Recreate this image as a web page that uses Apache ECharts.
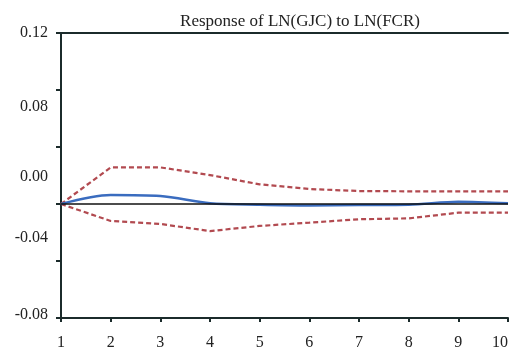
<!DOCTYPE html>
<html>
<head>
<meta charset="utf-8">
<script src="https://cdn.jsdelivr.net/npm/echarts@6/dist/echarts.min.js"></script>
<style>
  html, body { margin: 0; padding: 0; background: #fff; }
  #main { width: 509px; height: 354px; }
</style>
</head>
<body>
<div id="main"></div>
<script>
// periods after the shock
var periods = [1, 2, 3, 4, 5, 6, 7, 8, 9, 10];
// impulse response and +/- 2 s.e. bands
var response = [0, 0.0063, 0.0056, 0.0005, -0.0005, -0.001, -0.0007, -0.0005, 0.0016, 0.0005];
var upperBand = [0, 0.0257, 0.0257, 0.0203, 0.0138, 0.0105, 0.0091, 0.0089, 0.0089, 0.0089];
var lowerBand = [0, -0.0119, -0.014, -0.019, -0.0154, -0.0131, -0.0107, -0.0101, -0.0061, -0.0061];
// y tick labels that are printed ("0.04" is not shown in the original)
var yLabels = ['0.12', '0.08', '0.00', '-0.04', '-0.08'];

function pairs(vals) {
  var out = [];
  for (var i = 0; i < periods.length; i++) out.push([periods[i], vals[i]]);
  return out;
}

var axisCol = '#1b2b2b';
var font = 'Liberation Serif';

// the original prints the y labels a bit off their ticks
function yFmt(v) {
  var s = v.toFixed(2);
  if (s === '-0.00') s = '0.00';
  if (yLabels.indexOf(s) < 0) return '';
  var style = {'0.08': 'dn', '0.00': 'up1', '-0.04': 'up2', '-0.08': 'up3'}[s] || 'n';
  return '{' + style + '|' + s + '}';
}
var richBase = {fontFamily: font, fontSize: 16, color: '#222'};

var myChart = echarts.init(document.getElementById('main'));
var option = {
  animation: false,
  title: {
    text: 'Response of LN(GJC) to LN(FCR)',
    left: 295, top: 8, textAlign: 'center',
    textStyle: {fontFamily: font, fontSize: 17, fontWeight: 'normal', color: '#222'}
  },
  grid: {left: 61, top: 33, right: 1, bottom: 36, outerBoundsMode: 'none'},
  xAxis: [{
    type: 'value', min: 1, max: 10, interval: 1,
    axisLine: {show: true, onZero: false, lineStyle: {color: axisCol, width: 2}},
    axisTick: {show: true, length: 4, lineStyle: {color: axisCol, width: 2}},
    axisLabel: {fontFamily: font, fontSize: 16, color: '#222', margin: 17, alignMaxLabel: 'right'},
    splitLine: {show: false}
  }, {
    type: 'value', position: 'top', min: 1, max: 10,
    axisLine: {show: true, onZero: false, lineStyle: {color: axisCol, width: 2}},
    axisTick: {show: false}, axisLabel: {show: false}, splitLine: {show: false}
  }],
  yAxis: {
    type: 'value', min: -0.08, max: 0.12, interval: 0.04,
    axisLine: {show: true, onZero: false, lineStyle: {color: axisCol, width: 2}},
    axisTick: {show: true, length: 5, lineStyle: {color: axisCol, width: 2}},
    axisLabel: {
      margin: 13, formatter: yFmt,
      rich: {
        n: richBase,
        dn: Object.assign({padding: [34, 0, 0, 0]}, richBase),
        up1: Object.assign({padding: [0, 0, 54, 0]}, richBase),
        up2: Object.assign({padding: [0, 0, 46, 0]}, richBase),
        up3: Object.assign({padding: [0, 0, 6, 0]}, richBase)
      }
    },
    splitLine: {show: false}
  },
  series: [{
    type: 'line', data: pairs(upperBand), showSymbol: false,
    lineStyle: {color: '#b24a50', width: 2.2, type: [5, 3]}, z: 3
  }, {
    type: 'line', data: pairs(lowerBand), showSymbol: false,
    lineStyle: {color: '#b24a50', width: 2.2, type: [5, 3]}, z: 3
  }, {
    type: 'line', data: pairs(response), showSymbol: false, smooth: 0.3,
    lineStyle: {color: '#3a6cbf', width: 2.5}, z: 4,
    markLine: {
      silent: true, symbol: 'none', label: {show: false},
      lineStyle: {color: '#111', width: 1.5, type: 'solid'},
      data: [{yAxis: 0}]
    }
  }]
};
myChart.setOption(option);
</script>
</body>
</html>
